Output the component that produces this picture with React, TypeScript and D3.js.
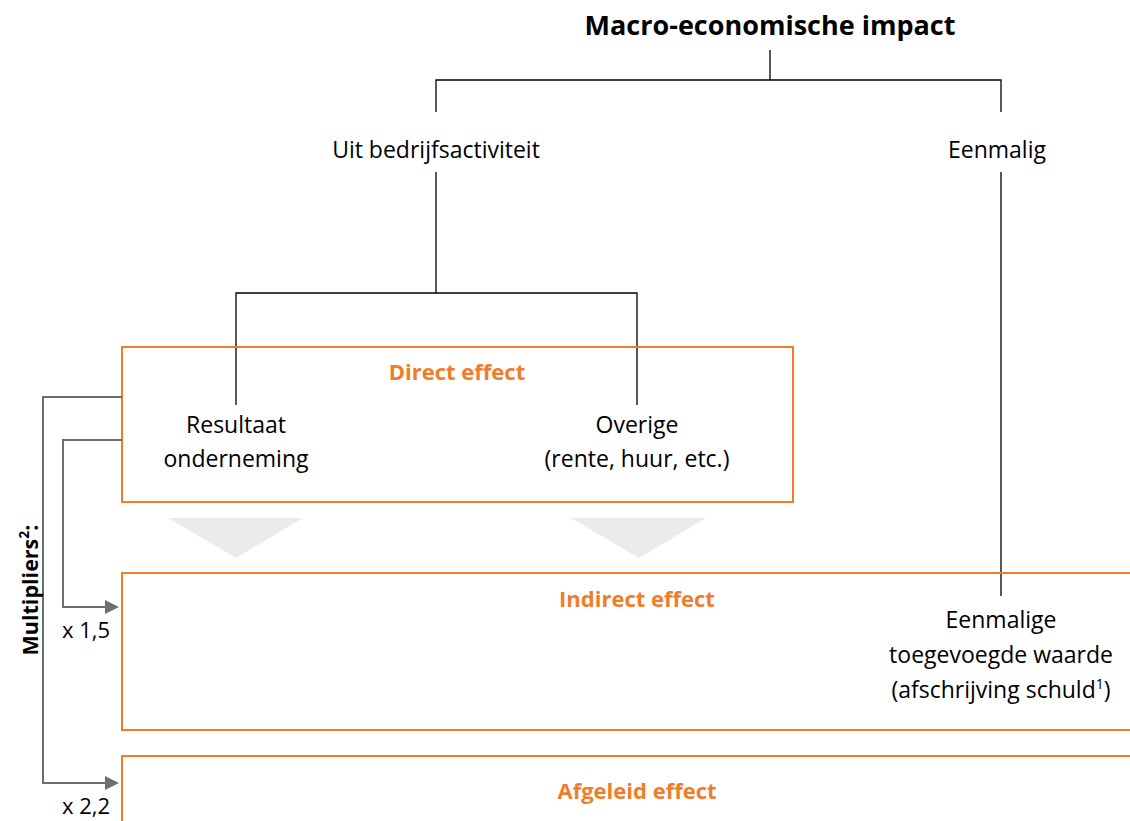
import React from 'react'
import * as d3 from 'd3'

// labels
const title = 'Macro-economische impact'
const branches = ['Uit bedrijfsactiviteit', 'Eenmalig']
const directItems = [['Resultaat', 'onderneming'], ['Overige', '(rente, huur, etc.)']]
const effects = ['Direct effect', 'Indirect effect', 'Afgeleid effect']
const multipliers = ['x 1,5', 'x 2,2']
const oneOff = ['Eenmalige', 'toegevoegde waarde', '(afschrijving schuld']

const W = 1130
const H = 821
const orange = '#F07D2A'
const grey = '#6D6E71'
const font = '"Open Sans", Lato, sans-serif'

// column positions
const col = { root: 770, left: 436, right: 1001, a: 236, b: 637 }
// row positions
const row = { title: 35, bar1: 80, branch: 158, bar2: 293 }
// effect boxes [left, top, bottom]
const boxes: [number, number, number][] = [[122, 347, 502], [122, 573, 730], [122, 756, 860]]
const boxRight = [793, 1160, 1160]

const line = d3.line()

const App = () => {
  const tri = (cx: number) => {
    const p = d3.path()
    p.moveTo(cx - 68, 518)
    p.lineTo(cx + 67, 518)
    p.lineTo(cx, 558)
    p.closePath()
    return p.toString()
  }

  const arrow = (x: number, y0: number, y1: number) =>
    line([[122, y0], [x, y0], [x, y1], [105, y1]])

  return (
    <div style={{ position: 'absolute', left: 0, top: 0 }}>
      <svg width={W} height={H} style={{ display: 'block' }} fontFamily={font}>
        <rect width={W} height={H} fill="#fff" />

        {/* tree connectors */}
        <g stroke="#000" strokeWidth={1.3} fill="none">
          <path d={line([[col.root, 50], [col.root, row.bar1]])!} />
          <path d={line([[col.left, 112], [col.left, row.bar1], [col.right, row.bar1], [col.right, 112]])!} />
          <path d={line([[col.left, 172], [col.left, row.bar2]])!} />
          <path d={line([[col.a, 405], [col.a, row.bar2], [col.b, row.bar2], [col.b, 405]])!} />
          <path d={line([[col.right, 172], [col.right, 596]])!} />
        </g>

        <text x={col.root} y={row.title} textAnchor="middle" fontWeight="bold" fontSize={27}>{title}</text>
        <text x={col.left} y={row.branch} textAnchor="middle" fontSize={23}>{branches[0]}</text>
        <text x={col.right - 4} y={row.branch} textAnchor="middle" fontSize={23}>{branches[1]}</text>

        {/* triangles */}
        <path d={tri(236)} fill="#EBEBEB" />
        <path d={tri(639)} fill="#EBEBEB" />

        {/* effect boxes */}
        {boxes.map(([x, y0, y1], i) => (
          <rect key={i} x={x} y={y0} width={boxRight[i] - x} height={y1 - y0}
            fill="none" stroke={orange} strokeWidth={2} />
        ))}
        <text x={457} y={380} textAnchor="middle" fontWeight="bold" fontSize={22} fill={orange}>{effects[0]}</text>
        <text x={637} y={607} textAnchor="middle" fontWeight="bold" fontSize={22} fill={orange}>{effects[1]}</text>
        <text x={637} y={799} textAnchor="middle" fontWeight="bold" fontSize={22} fill={orange}>{effects[2]}</text>

        {/* direct items */}
        {directItems.map((lines, i) => (
          <text key={i} x={i === 0 ? col.a : col.b} textAnchor="middle" fontSize={23}>
            {lines.map((t, j) => (
              <tspan key={j} x={i === 0 ? col.a : col.b} y={433 + j * 34}>{t}</tspan>
            ))}
          </text>
        ))}

        {/* one-off */}
        <text textAnchor="middle" fontSize={23}>
          <tspan x={col.right} y={628}>{oneOff[0]}</tspan>
          <tspan x={col.right} y={663}>{oneOff[1]}</tspan>
          <tspan x={col.right} y={698}>{oneOff[2]}<tspan fontSize={14} dy={-9}>1</tspan><tspan dy={9}>)</tspan></tspan>
        </text>

        {/* multiplier arrows */}
        <defs>
          <marker id="ah" viewBox="0 0 10 10" refX={0} refY={5} markerWidth={7} markerHeight={7} orient="auto">
            <path d="M0,0L10,5L0,10Z" fill={grey} />
          </marker>
        </defs>
        <g stroke={grey} strokeWidth={2} fill="none">
          <path d={arrow(63, 440, 607)!} markerEnd="url(#ah)" />
          <path d={arrow(43, 397, 783)!} markerEnd="url(#ah)" />
        </g>
        <text x={62} y={638} fontSize={22}>{multipliers[0]}</text>
        <text x={62} y={814} fontSize={22}>{multipliers[1]}</text>
        <text transform="translate(38,590) rotate(-90)" textAnchor="middle" fontWeight="bold" fontSize={21.5}>
          Multipliers<tspan fontSize={14} dy={-9}>2</tspan><tspan dy={9}>:</tspan>
        </text>
      </svg>
    </div>
  )
}

export default App
